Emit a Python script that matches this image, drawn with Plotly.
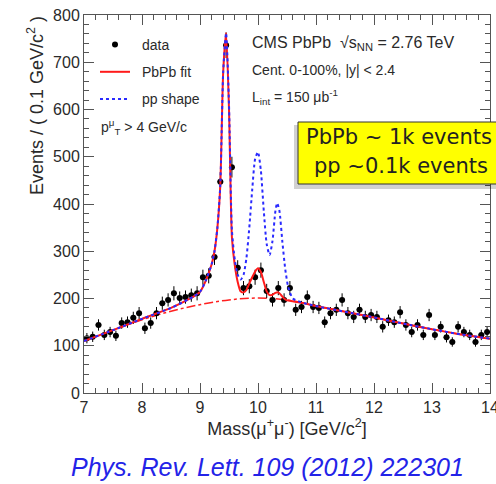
import plotly.graph_objects as go

# ---------------- data ----------------
bin_centers = [7.05, 7.15, 7.25, 7.35, 7.45, 7.55, 7.65, 7.75, 7.85, 7.95,
               8.05, 8.15, 8.25, 8.35, 8.45, 8.55, 8.65, 8.75, 8.85, 8.95,
               9.05, 9.15, 9.25, 9.35, 9.45, 9.55, 9.65, 9.75, 9.85, 9.95,
               10.05, 10.15, 10.25, 10.35, 10.45, 10.55, 10.65, 10.75, 10.85, 10.95,
               11.05, 11.15, 11.25, 11.35, 11.45, 11.55, 11.65, 11.75, 11.85, 11.95,
               12.05, 12.15, 12.25, 12.35, 12.45, 12.55, 12.65, 12.75, 12.85, 12.95,
               13.05, 13.15, 13.25, 13.35, 13.45, 13.55, 13.65, 13.75, 13.85, 13.95]
counts = [116, 119, 144, 123, 129, 121, 148, 150, 159, 169,
          137, 148, 169, 190, 197, 211, 201, 203, 207, 211,
          245, 248, 288, 447, 736, 478, 265, 222, 226, 245,
          260, 216, 197, 222, 197, 222, 176, 182, 203, 182,
          180, 150, 169, 176, 197, 169, 161, 176, 161, 165,
          161, 140, 154, 150, 171, 144, 129, 144, 123, 165,
          123, 140, 118, 108, 140, 129, 123, 108, 123, 129]
count_err = [11, 11, 12, 11, 11, 11, 12, 12, 13, 13,
             12, 12, 13, 14, 14, 15, 14, 14, 14, 15,
             16, 16, 17, 21, 27, 22, 16, 15, 15, 16,
             16, 15, 14, 15, 14, 15, 13, 13, 14, 13,
             13, 12, 13, 13, 14, 13, 13, 13, 13, 13,
             13, 12, 12, 12, 13, 12, 11, 12, 11, 13,
             11, 12, 11, 10, 12, 11, 11, 10, 11, 11]

fit_x = [7.0, 7.5, 8.0, 8.5, 8.8, 8.9, 9.0, 9.1, 9.2, 9.25, 9.3, 9.35, 9.4, 9.45, 9.5,
         9.55, 9.6, 9.65, 9.7, 9.75, 9.8, 9.85, 9.9, 9.95, 10.0, 10.05, 10.1, 10.15,
         10.2, 10.25, 10.3, 10.35, 10.4, 10.45, 10.5, 10.6, 10.8, 11.0, 11.5, 12.0,
         12.5, 13.0, 13.5, 14.0]
fit_y = [110, 133, 157, 180, 198, 205, 214, 238, 272, 300, 350, 440, 680, 762, 600,
         330, 270, 235, 215, 213, 218, 232, 245, 257, 264, 256, 235, 215,
         207, 208, 212, 213, 207, 200, 196, 194, 190, 184, 172, 160,
         147, 135, 124, 115]

pp_x = [7.0, 7.5, 8.0, 8.5, 8.8, 8.9, 9.0, 9.1, 9.2, 9.25, 9.3, 9.35, 9.4, 9.45, 9.5,
        9.55, 9.6, 9.65, 9.7, 9.75, 9.8, 9.85, 9.9, 9.95, 10.0, 10.05, 10.1, 10.15,
        10.2, 10.25, 10.3, 10.33, 10.37, 10.42, 10.47, 10.52, 10.6, 10.8, 11.0, 11.5,
        12.0, 12.5, 13.0, 13.5, 14.0]
pp_y = [110, 133, 157, 180, 198, 205, 214, 238, 272, 300, 350, 440, 680, 762, 610,
        345, 282, 250, 240, 250, 285, 350, 430, 495, 510, 470, 385, 315,
        292, 322, 385, 402, 385, 320, 262, 225, 200, 190, 184, 172,
        160, 147, 135, 124, 115]

bg_x = [7.0, 7.5, 8.0, 8.5, 9.0, 9.5, 10.0, 10.5, 11.0, 11.5, 12.0, 12.5, 13.0, 13.5, 14.0]
bg_y = [110, 133, 155, 173, 187, 197, 201, 197, 184, 172, 160, 147, 135, 124, 115]

x_ticks = [7, 8, 9, 10, 11, 12, 13, 14]
y_ticks = [0, 100, 200, 300, 400, 500, 600, 700, 800]

# ---------------- layout helpers ----------------
W, H = 496, 484
ML, MR, MT, MB = 84, 6, 15, 91
PW, PH = W - ML - MR, H - MT - MB


def px(xp):
    return (xp - ML) / PW


def py(yp):
    return (H - MB - yp) / PH


FONT = "Liberation Sans, Arial, sans-serif"
TXT = "#2a2a2a"
SP = "\u2002"

fig = go.Figure()

fig.add_trace(go.Scatter(
    x=bg_x, y=bg_y, mode="lines", showlegend=False,
    line=dict(color="#ff2020", width=1.5, dash="dashdot", shape="spline"),
    hoverinfo="skip"))

fig.add_trace(go.Scatter(
    x=bin_centers, y=counts, mode="markers", name=SP + "data",
    legendgroup="a",
    marker=dict(color="black", size=6),
    error_y=dict(type="data", array=count_err, color="black", thickness=1, width=0),
    error_x=dict(type="constant", value=0.05, color="black", thickness=1, width=0)))

fig.add_trace(go.Scatter(
    x=fit_x, y=fit_y, mode="lines", name=SP + "PbPb fit", legendgroup="b",
    line=dict(color="#ff1a1a", width=2, shape="spline", smoothing=0.6)))

fig.add_trace(go.Scatter(
    x=pp_x, y=pp_y, mode="lines", name=SP + "pp shape", legendgroup="c",
    line=dict(color="#2a2aff", width=2, dash="dot", shape="spline", smoothing=0.6)))

axis_common = dict(
    showline=True, linecolor="#555", linewidth=1, mirror="ticks",
    ticks="inside", tickcolor="#555", showgrid=False, zeroline=False,
    ticklabeloverflow="allow", automargin=False,
    tickfont=dict(family=FONT, size=16, color=TXT))

fig.update_xaxes(range=[7, 14], tickvals=x_ticks, ticklen=10,
                 minor=dict(ticks="inside", dtick=0.2, ticklen=5, tickcolor="#555"),
                 title=dict(text="Mass(μ<sup>+</sup>μ<sup>-</sup>) [GeV/c<sup>2</sup>]",
                            font=dict(family=FONT, size=18, color=TXT), standoff=6),
                 **axis_common)
fig.update_yaxes(range=[0, 800], tickvals=y_ticks, ticklen=10,
                 minor=dict(ticks="inside", dtick=20, ticklen=5, tickcolor="#555"),
                 **axis_common)

annotations = [
    dict(text="Events / ( 0.1 GeV/c<sup>2</sup> )", x=px(36), y=py(106), textangle=-90,
         xanchor="center", yanchor="middle",
         font=dict(family=FONT, size=18, color=TXT)),
    dict(text="p<sup>μ</sup><sub>T</sub> > 4 GeV/c", x=px(99), y=py(127),
         xanchor="left", yanchor="middle",
         font=dict(family=FONT, size=14, color=TXT)),
    dict(text="CMS PbPb  √s<sub>NN</sub> = 2.76 TeV", x=px(250), y=py(43),
         xanchor="left", yanchor="middle",
         font=dict(family=FONT, size=16, color=TXT)),
    dict(text="Cent. 0-100%, |y| < 2.4", x=px(250), y=py(70),
         xanchor="left", yanchor="middle",
         font=dict(family=FONT, size=14, color=TXT)),
    dict(text="L<sub>int</sub> = 150 μb<sup>-1</sup>", x=px(250), y=py(97),
         xanchor="left", yanchor="middle",
         font=dict(family=FONT, size=14, color=TXT)),
    dict(text="PbPb ~ 1k events", x=px(304), y=py(137),
         xanchor="left", yanchor="middle",
         font=dict(family="DejaVu Sans", size=21, color="#222")),
    dict(text="pp ~0.1k events", x=px(312), y=py(166),
         xanchor="left", yanchor="middle",
         font=dict(family="DejaVu Sans", size=21, color="#222")),
    dict(text="<i>Phys. Rev. Lett. 109 (2012) 222301</i>", x=px(267), y=py(467),
         xanchor="center", yanchor="middle",
         font=dict(family=FONT, size=25, color="#2323e8")),
]
for a in annotations:
    a.update(xref="paper", yref="paper", showarrow=False)

shapes = [
    dict(type="rect", xref="paper", yref="paper",
         x0=px(294), x1=px(505), y0=py(189), y1=py(125),
         fillcolor="rgba(0,0,0,0.18)", line=dict(width=0), layer="above"),
    dict(type="rect", xref="paper", yref="paper",
         x0=px(298), x1=px(505), y0=py(184), y1=py(122),
         fillcolor="#ffff00", line=dict(color="#333", width=1), layer="above"),
]

fig.update_layout(
    width=W, height=H,
    margin=dict(l=ML, r=MR, t=MT, b=MB, autoexpand=False),
    paper_bgcolor="white", plot_bgcolor="white",
    annotations=annotations, shapes=shapes,
    legend=dict(x=px(95), y=py(29), xanchor="left", yanchor="top",
                bgcolor="rgba(0,0,0,0)", tracegroupgap=6,
                font=dict(family=FONT, size=14, color=TXT)),
)

fig.write_html("out.html")
